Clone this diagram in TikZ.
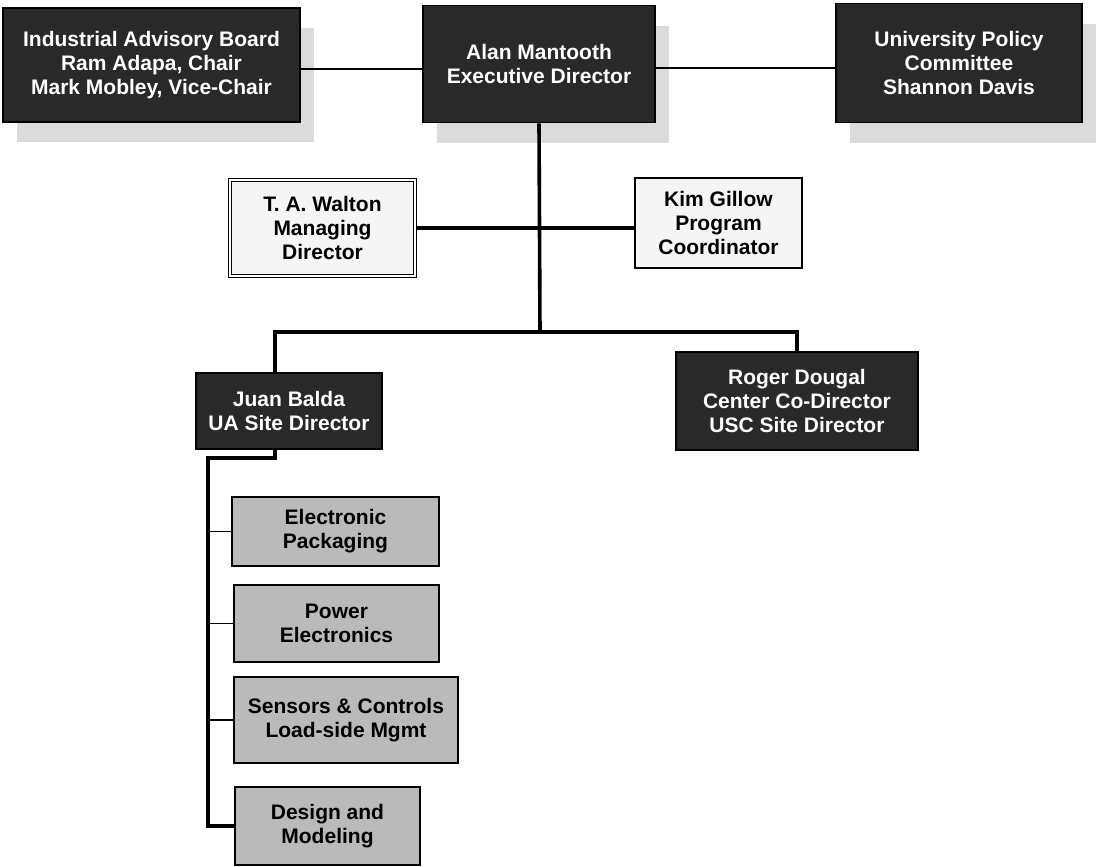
\documentclass[tikz,border=0pt]{standalone}
\usepackage{fontspec}
\setmainfont{Liberation Sans}
\usetikzlibrary{shadows}

\tikzset{
  box/.style={draw=black, line width=0.8pt, inner sep=0pt, align=center,
    font=\fontsize{10.5pt}{12pt}\selectfont\bfseries},
  dkbox/.style={box, fill=black!84, text=white},
  topbox/.style={dkbox, drop shadow={shadow xshift=7pt, shadow yshift=-10pt,
    fill=black!14, opacity=1}},
  ltbox/.style={box, fill=black!4},
  grbox/.style={box, fill=black!27},
  conn/.style={line width=1.8pt},
  thin/.style={line width=0.7pt}
}

\begin{document}
\begin{tikzpicture}[x=0.5pt, y=-0.5pt]
  \useasboundingbox (0,0) rectangle (1100,867);

  % top row
  \node[topbox, minimum width=148.5pt, minimum height=57pt] (iab) at (151.5,65)
    {Industrial Advisory Board\\Ram Adapa, Chair\\Mark Mobley, Vice-Chair};
  \node[topbox, minimum width=116pt, minimum height=58.5pt] (exec) at (539,64)
    {Alan Mantooth\\Executive Director};
  \node[topbox, minimum width=123pt, minimum height=59.5pt] (upc) at (959,63)
    {University Policy\\Committee\\Shannon Davis};

  % staff
  \node[ltbox, double, double distance=1.2pt, line width=0.5pt,
    minimum width=92.5pt, minimum height=48pt] (walton) at (322.5,228)
    {T. A. Walton\\Managing\\Director};
  \node[ltbox, minimum width=83.5pt, minimum height=45pt] (gillow) at (718.5,223)
    {Kim Gillow\\Program\\Coordinator};

  % site directors
  \node[dkbox, minimum width=93pt, minimum height=38pt] (juan) at (289,411)
    {Juan Balda\\UA Site Director};
  \node[dkbox, minimum width=121pt, minimum height=49pt] (roger) at (797,401)
    {Roger Dougal\\Center Co-Director\\USC Site Director};

  % research areas
  \node[grbox, minimum width=103.5pt, minimum height=34.5pt] (pack) at (335.5,531.5)
    {Electronic\\Packaging};
  \node[grbox, minimum width=102.5pt, minimum height=38.5pt] (power) at (336.5,623.5)
    {Power\\Electronics};
  \node[grbox, minimum width=112pt, minimum height=43pt] (sens) at (346,720)
    {Sensors \& Controls\\Load-side Mgmt};
  \node[grbox, minimum width=92.5pt, minimum height=39pt] (design) at (327.5,826)
    {Design and\\Modeling};

  \coordinate (bar) at (540,332);
  \coordinate (jdrop) at (275,332);
  \coordinate (rdrop) at (797,332);
  \coordinate (jlow) at (275,458);
  \coordinate (spine) at (208,458);

  \draw[line width=1.4pt] (iab.east |- exec.west) ++(0,5) -- ([yshift=-2.5pt]exec.west);
  \draw[line width=1.4pt] ([yshift=-2pt]exec.east) -- ([yshift=-2pt]upc.west |- exec.east);
  \draw[conn] (exec.south) -- (bar);
  \draw[conn] (walton.east) -- (gillow.west |- walton.east);
  \draw[conn] (jdrop |- juan.north) -- (jdrop) -- (rdrop) -- (roger.north);
  \draw[conn, line width=2.2pt] (jdrop |- juan.south) -- (jlow) -- (spine)
    -- (spine |- design.west) -- (design.west);
  \draw[thin] (spine |- pack.west) -- (pack.west);
  \draw[thin] (spine |- power.west) -- (power.west);
  \draw[thin] (spine |- sens.west) -- (sens.west);
\end{tikzpicture}
\end{document}
